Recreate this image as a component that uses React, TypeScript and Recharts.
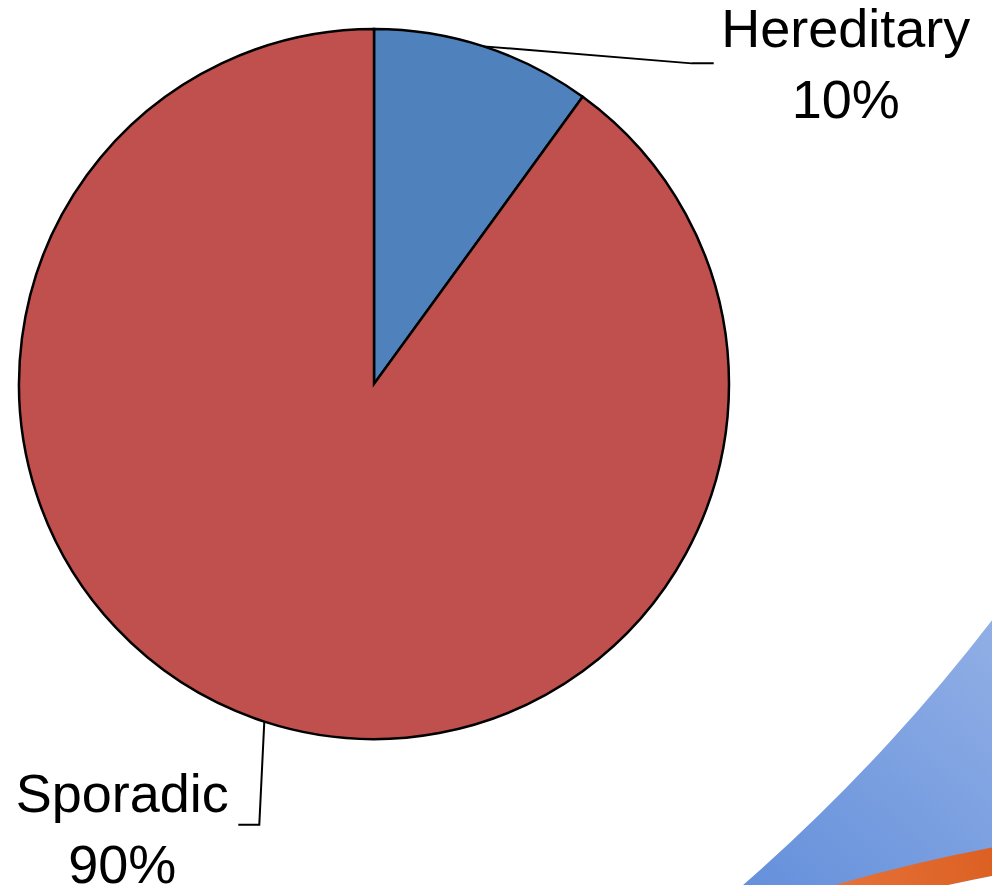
import React from "react"
import { Pie, PieChart, Cell } from "recharts"

const names = ["Hereditary", "Sporadic"]
const shares = [10, 90]
const sliceColors = ["#4F81BD", "#C0504D"]

const data = names.map((name, i) => ({ name, value: shares[i] }))

// decorative background swoosh in the lower right corner
const deco = [{ name: "deco", value: 1 }]

const RAD = Math.PI / 180
const FONT = "'Liberation Sans', Arial, sans-serif"

// offsets from the slice edge point to the elbow, line end, label centre and baselines
const labelLayout = [
  { elbow: [208, 17], end: [230, 17], text: 362, base: [1, 72] },
  { elbow: [-5, 103], end: [-26, 103], text: -142, base: [90, 161] },
]

function renderLabel(props: any) {
  const { cx, cy, midAngle, outerRadius, index, name, value } = props
  const ex = cx + outerRadius * Math.cos(-midAngle * RAD)
  const ey = cy + outerRadius * Math.sin(-midAngle * RAD)
  const l = labelLayout[index]
  const pts = [
    [ex, ey],
    [ex + l.elbow[0], ey + l.elbow[1]],
    [ex + l.end[0], ey + l.end[1]],
  ]
  return (
    <g key={"lbl-" + index}>
      <polyline
        points={pts.map((p) => p.join(",")).join(" ")}
        fill="none"
        stroke="#000"
        strokeWidth={2}
      />
      <text
        x={ex + l.text}
        y={ey + l.base[0]}
        textAnchor="middle"
        fontFamily={FONT}
        fontSize={54}
        fill="#000"
      >
        {name}
      </text>
      <text
        x={ex + l.text}
        y={ey + l.base[1]}
        textAnchor="middle"
        fontFamily={FONT}
        fontSize={54}
        fill="#000"
      >
        {value + "%"}
      </text>
    </g>
  )
}

export default function App() {
  return (
    <>
      <style>{"body{margin:0}"}</style>
      <PieChart width={992} height={885} margin={{ top: 0, right: 0, bottom: 0, left: 0 }}>
        <defs>
          <linearGradient id="blueGrad" gradientUnits="userSpaceOnUse" x1={992} y1={600} x2={740} y2={885}>
            <stop offset="0%" stopColor="#93B0E6" />
            <stop offset="100%" stopColor="#6490DB" />
          </linearGradient>
          <linearGradient id="orangeGrad" gradientUnits="userSpaceOnUse" x1={830} y1={885} x2={992} y2={850}>
            <stop offset="0%" stopColor="#E6723A" />
            <stop offset="100%" stopColor="#DC6022" />
          </linearGradient>
        </defs>
        <Pie
          data={deco}
          dataKey="value"
          cx={-463}
          cy={-498}
          innerRadius={1835}
          outerRadius={2400}
          startAngle={-25}
          endAngle={-60}
          fill="url(#blueGrad)"
          stroke="none"
          label={false}
          labelLine={false}
          legendType="none"
          isAnimationActive={false}
        />
        <Pie
          data={deco}
          dataKey="value"
          cx={1325}
          cy={2592}
          innerRadius={1748}
          outerRadius={1776}
          startAngle={96}
          endAngle={112}
          fill="url(#orangeGrad)"
          stroke="none"
          label={false}
          labelLine={false}
          legendType="none"
          isAnimationActive={false}
        />
        <Pie
          data={deco}
          dataKey="value"
          cx={1325}
          cy={2592}
          innerRadius={1650}
          outerRadius={1748}
          startAngle={96}
          endAngle={112}
          fill="#fff"
          stroke="none"
          label={false}
          labelLine={false}
          legendType="none"
          isAnimationActive={false}
        />
        <Pie
          data={data}
          dataKey="value"
          nameKey="name"
          cx={374}
          cy={384}
          outerRadius={355}
          startAngle={90}
          endAngle={-270}
          stroke="#000"
          strokeWidth={2.5}
          label={renderLabel}
          labelLine={false}
          isAnimationActive={false}
        >
          {data.map((d, i) => (
            <Cell key={d.name} fill={sliceColors[i]} />
          ))}
        </Pie>
      </PieChart>
    </>
  )
}
